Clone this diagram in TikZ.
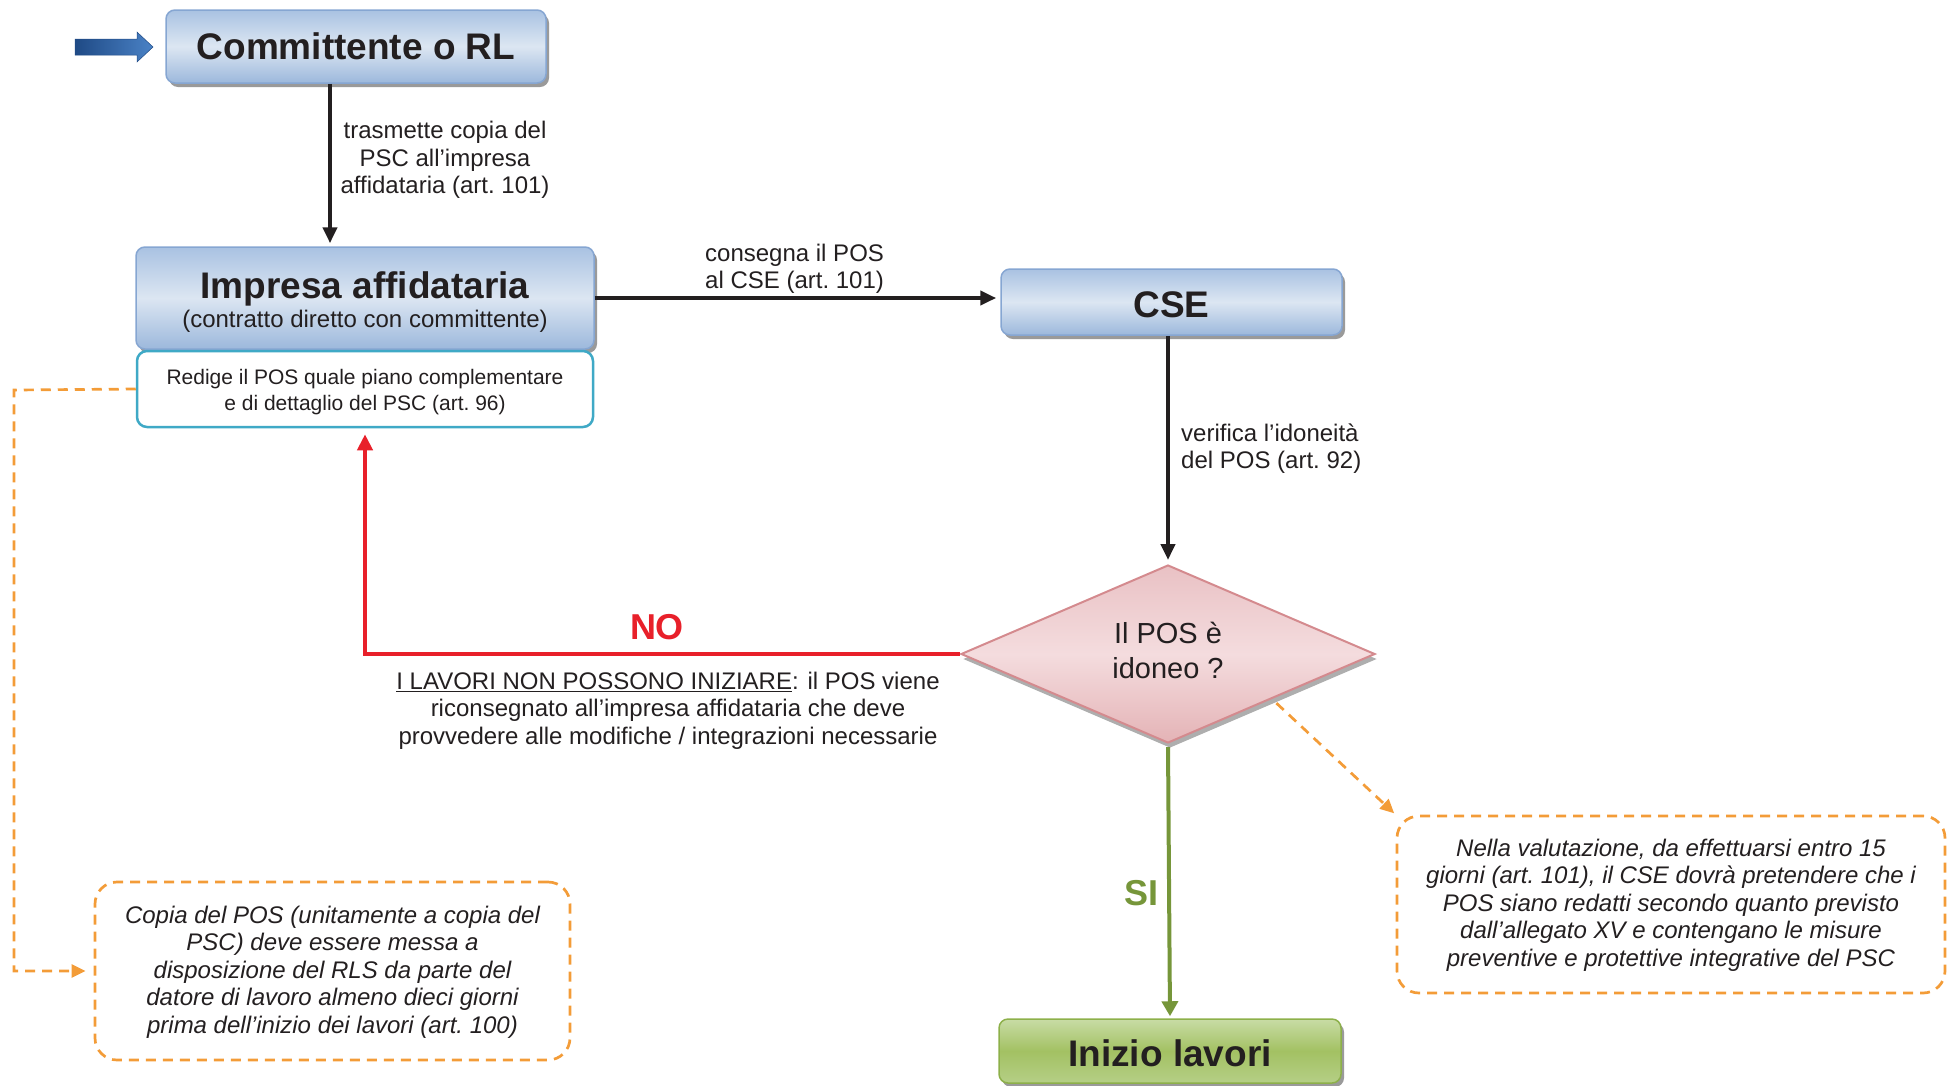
\documentclass[tikz,border=0pt]{standalone}
\usepackage{fontspec}
\setmainfont{Liberation Sans}
\usetikzlibrary{arrows.meta,shapes.geometric,shadows,calc}
\definecolor{txt}{HTML}{231F20}
\definecolor{btop}{HTML}{A9C2E2}
\definecolor{blight}{HTML}{DCE6F2}
\definecolor{bbot}{HTML}{9CB8DC}
\definecolor{bborder}{HTML}{86A6D2}
\definecolor{shadowgray}{HTML}{9A9A9A}
\definecolor{tealb}{HTML}{3FA9C6}
\definecolor{ptop}{HTML}{E9C1C4}
\definecolor{plight}{HTML}{F4DCDE}
\definecolor{pbot}{HTML}{E4B3B6}
\definecolor{pborder}{HTML}{D48A8E}
\definecolor{gtop}{HTML}{C8DCA5}
\definecolor{gmid}{HTML}{A3C163}
\definecolor{gbot}{HTML}{B5CF86}
\definecolor{gborder}{HTML}{8DB04A}
\definecolor{orng}{HTML}{F39C38}
\definecolor{redl}{HTML}{E8202A}
\definecolor{grnl}{HTML}{76963A}
\definecolor{adark}{HTML}{1F4A85}
\definecolor{alight}{HTML}{4A82C6}
\begin{document}
\begin{tikzpicture}[x=1pt,y=-1pt,
  every node/.style={inner sep=0pt, text=txt},
  bluebox/.style={rounded corners=9pt, draw=bborder, line width=1.5pt,
    top color=btop, bottom color=bbot, middle color=blight,
    drop shadow={shadow xshift=3pt,shadow yshift=-4pt,fill=shadowgray,opacity=1},
    font=\bfseries\fontsize{37}{40}\selectfont},
  greenbox/.style={rounded corners=9pt, draw=gborder, line width=1.5pt,
    top color=gtop, bottom color=gbot, middle color=gmid,
    drop shadow={shadow xshift=3pt,shadow yshift=-4pt,fill=shadowgray,opacity=1},
    font=\bfseries\fontsize{37}{40}\selectfont},
  notebox/.style={draw=orng, line width=2.7pt, dash pattern=on 10pt off 7pt,
    rounded corners=22pt, align=center, font=\itshape\fontsize{24}{27.5}\selectfont},
  lbl/.style={font=\fontsize{24}{27.5}\selectfont},
  blk/.style={draw=txt, line width=4pt, -{Triangle[length=16pt,width=14pt]}},
  redarr/.style={draw=redl, line width=4pt, -{Triangle[length=16pt,width=15pt]}},
  grnarr/.style={draw=grnl, line width=4pt, -{Triangle[length=15pt,width=16pt]}},
  orarr/.style={draw=orng, line width=2.7pt, dash pattern=on 10pt off 7pt, -{Triangle[length=14pt,width=13pt]}},
]
\useasboundingbox (0,0) rectangle (1954,1085);

% start arrow
\shade[left color=adark, right color=alight, draw=adark, line width=0.5pt]
  (75,39) -- (137,39) -- (137,32) -- (153,47) -- (137,62) -- (137,55) -- (75,55) -- cycle;

\node[bluebox, minimum width=380pt, minimum height=73pt] (comm) at (356,46.5) {\raisebox{0pt}[\height][\depth]{Committente o RL}};

\node[bluebox, minimum width=458pt, minimum height=102pt] (imp) at (365,298) {};
\node[font=\bfseries\fontsize{37}{40}\selectfont] (impt) at (365,289) {Impresa affidataria};
\node[lbl] (imps) at (365,321) {(contratto diretto con committente)};

\node[draw=tealb, line width=2.5pt, rounded corners=10pt, fill=white,
  minimum width=456pt, minimum height=76pt, align=center,
  font=\fontsize{21}{26}\selectfont] (red) at (365,389)
  {\raisebox{-3pt}[\height][\depth]{Redige il POS quale piano complementare}\\\raisebox{-3pt}[\height][\depth]{e di dettaglio del PSC (art.~96)}};

\node[bluebox, minimum width=341pt, minimum height=66pt] (cse) at (1171.5,302) {\raisebox{-3pt}[\height][\depth]{CSE}};

\node[diamond, draw=pborder, line width=2pt, top color=ptop, bottom color=pbot, middle color=plight,
  minimum width=414pt, minimum height=178pt,
  drop shadow={shadow xshift=2pt,shadow yshift=-5pt,fill=shadowgray!80,opacity=1}] (dia) at (1168,654) {};
\node[align=center, font=\fontsize{29}{35}\selectfont] (diat) at (1168,650) {Il POS è\\idoneo ?};

\node[greenbox, minimum width=342pt, minimum height=64pt] (ini) at (1170,1051) {\raisebox{-2pt}[\height][\depth]{Inizio lavori}};

\node[notebox, minimum width=475pt, minimum height=178pt] (lnote) at (332.5,971) {};
\node[align=center, font=\itshape\fontsize{24}{27.5}\selectfont] (lnotet) at (332.5,972)
  {Copia del POS (unitamente a copia del\\PSC) deve essere messa a\\disposizione del RLS da parte del\\datore di lavoro almeno dieci giorni\\prima dell’inizio dei lavori (art.~100)};

\node[notebox, minimum width=548pt, minimum height=177pt] (rnote) at (1671,904.5) {};
\node[align=center, font=\itshape\fontsize{24}{27.5}\selectfont] (rnotet) at (1671,905)
  {Nella valutazione, da effettuarsi entro 15\\giorni (art.~101), il CSE dovrà pretendere che i\\POS siano redatti secondo quanto previsto\\dall’allegato XV e contengano le misure\\preventive e protettive integrative del PSC};

% labels
\node[lbl, align=center] (l1) at (445,160) {trasmette copia del\\PSC all’impresa\\affidataria (art.~101)};
\node[lbl, align=left, anchor=west] (l2) at (705,269) {consegna il POS\\al CSE (art.~101)};
\node[lbl, align=left, anchor=west] (l3) at (1181,448.5) {verifica l’idoneità\\del POS (art.~92)};
\node[lbl, align=center] (l4) at (668,710.5) {\underline{I LAVORI NON POSSONO INIZIARE}: il POS viene\\riconsegnato all’impresa affidataria che deve\\provvedere alle modifiche / integrazioni necessarie};
\node[font=\bfseries\fontsize{36}{40}\selectfont, text=redl] (no) at (657,627) {NO};
\node[font=\bfseries\fontsize{36}{40}\selectfont, text=grnl] (si) at (1141,893) {SI};

% connectors
\coordinate (c1) at ([xshift=-26pt]comm.south);
\draw[blk, shorten >=3pt] (c1) -- (c1 |- imp.north);
\draw[blk, shorten >=4pt] (imp.east) -- (imp.east -| cse.west);
\draw[blk, shorten >=4pt] (cse.south -| dia.north) -- (dia.north);
\draw[redarr, shorten >=6pt] (dia.west) -| (red.south);
\draw[grnarr, shorten >=2pt, shorten <=3pt] (dia.south) -- (ini.north);
\draw[orarr, shorten <=6pt, shorten >=2pt] (dia.south east) -- (rnote.north west);
\coordinate (bend) at (14,390);
\draw[orarr, shorten >=8pt] (red.west) -- (bend) |- (lnote.west);
\end{tikzpicture}
\end{document}
